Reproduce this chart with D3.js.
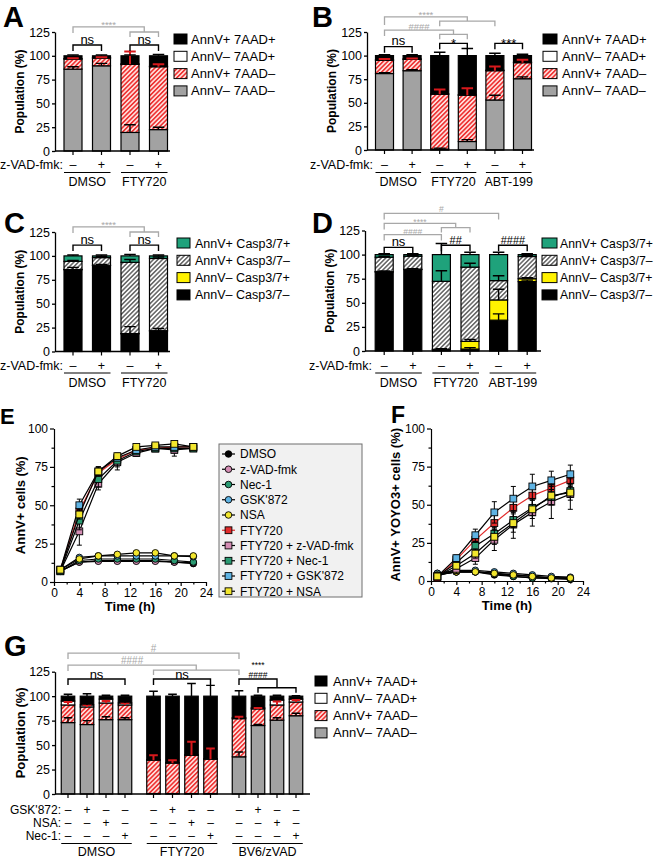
<!DOCTYPE html>
<html>
<head>
<meta charset="utf-8">
<script src="https://cdn.jsdelivr.net/npm/d3@7"></script>
<style>
body { margin: 0; background: #fff; }
</style>
</head>
<body>
<svg id="fig" width="659" height="859"></svg>
<script>
const FONT = '"Liberation Sans", Arial, Helvetica, sans-serif';
const GREY = '#a8a8a8';

// ---- legend names
const aadNames = ['AnnV+ 7AAD+', 'AnnV– 7AAD+', 'AnnV+ 7AAD–', 'AnnV– 7AAD–'];
const caspNames = ['AnnV+ Casp3/7+', 'AnnV+ Casp3/7–', 'AnnV– Casp3/7+', 'AnnV– Casp3/7–'];

// ---- panel A (segments in %, bottom to top)
const aGroups = ['DMSO', 'FTY720'];
const aZvad = ['–', '+', '–', '+'];
const aNN = [86, 89.5, 19.5, 22.5];
const aPN = [10.5, 8, 71.5, 66];
const aNP = [0.5, 0.5, 0.5, 0.5];
const aPP = [3, 2, 8.5, 11];
const aNNerr = [2.5, 2.5, 8, 2.5];
const aPNerr = [1, 1, 13.5, 2.5];
const aPPerr = [1, 1, 1, 1.5];

// ---- panel B
const bGroups = ['DMSO', 'FTY720', 'ABT-199'];
const bZvad = ['–', '+', '–', '+', '–', '+'];
const bNN = [81, 84, 1, 9, 53, 75.5];
const bPN = [14, 12, 58, 49, 31, 17];
const bNP = [0.5, 0.5, 0.5, 0.5, 0.5, 0.5];
const bPP = [4.5, 3.5, 40.5, 41.5, 15.5, 7];
const bNNerr = [1, 1, 1, 2, 5, 2];
const bPNerr = [1.5, 1, 5, 7.5, 4.5, 3];
const bPPerr = [1, 1, 3.5, 7.5, 2.5, 1.5];

// ---- panel C (AnnV-Casp-, AnnV-Casp+, AnnV+Casp-, AnnV+Casp+)
const cNN = [85.5, 90, 18.5, 21.5];
const cNP = [0.3, 0.2, 0.3, 0.3];
const cPN = [8.5, 8, 74.5, 75.5];
const cPP = [5.7, 1.8, 6.7, 2.7];
const cNNerr = [2.5, 1, 7.5, 2.5];
const cPNerr = [1, 1, 3, 1.5];
const cPPerr = [1, 1, 1.5, 1];

// ---- panel D
const dNN = [82, 84.5, 1.5, 2, 32, 72];
const dNP = [0.3, 0.3, 0.3, 8, 21, 3];
const dPN = [15, 13.5, 70.5, 77, 20, 23];
const dPP = [2.7, 1.7, 27.7, 13, 27, 2];
const dNNerr = [1, 1, 1, 1.5, 6.5, 1.5];
const dNPerr = [0, 0, 0, 2, 11, 1];
const dPNerr = [1, 1, 11, 4, 5, 1];
const dPPerr = [1, 1, 11.5, 2.5, 2.5, 1];

// ---- panels E / F (time course)
const timeH = [1, 4, 7, 10, 13, 16, 19, 22];
const seriesNames = ['DMSO', 'z-VAD-fmk', 'Nec-1', "GSK'872", 'NSA', 'FTY720',
  'FTY720 + z-VAD-fmk', 'FTY720 + Nec-1', "FTY720 + GSK'872", 'FTY720 + NSA'];
const seriesColors = ['#000000', '#d48db4', '#2a9a72', '#5fb3e3', '#f2e62e',
  '#e22b2b', '#d48db4', '#2a9a72', '#5fb3e3', '#f2e62e'];
const seriesShapes = ['circle', 'circle', 'circle', 'circle', 'circle',
  'square', 'square', 'square', 'square', 'square'];

const eDMSO = [7, 13, 14, 14, 14, 14, 13, 12];
const eZvad = [7, 13, 13.5, 13.5, 13.5, 13.5, 13, 12.5];
const eNec = [7, 14, 15, 15, 15, 15, 14, 13];
const eGsk = [8, 16, 17, 17, 17, 17, 17, 16.5];
const eNsa = [8, 15, 17, 18, 19, 19, 17, 17];
const eFty = [8, 46, 71, 80, 86, 87, 88, 88];
const eFtyZvad = [7, 33, 64, 78, 84, 87, 86, 87];
const eFtyNec = [7, 40, 67, 79, 85, 87, 87, 87];
const eFtyGsk = [8, 50, 72, 81, 86, 88, 88, 88];
const eFtyNsa = [8, 44, 72, 82, 88, 89, 90, 88];
const eErrSmall = [1, 1, 1, 1, 1, 1, 1.5, 1.5];
const eErrFty = [1, 4, 4, 3, 2, 1, 1, 1];
const eErrFtyZvad = [1, 9, 4, 5, 2, 2, 4, 1];
const eErrFtyNec = [1, 6, 5, 4, 2, 2, 2, 1];
const eErrFtyGsk = [1, 4, 3, 2, 1, 1, 1, 1];
const eErrFtyNsa = [1, 3, 3, 2, 1, 1, 1, 1];

const fDMSO = [5, 6, 6, 4, 3, 2, 1.5, 1];
const fZvad = [4, 6, 6, 5, 4, 3, 2, 2];
const fNec = [4, 6, 6, 5, 3, 2, 2, 1.5];
const fGsk = [5, 7, 7, 6, 5, 4, 3, 2.5];
const fNsa = [4, 6, 6, 5, 4, 3, 2, 2];
const fFty = [2, 14, 27, 38, 48, 56, 61, 66];
const fFtyZvad = [3, 8, 15, 27, 37, 45, 52, 57];
const fFtyNec = [3, 12, 23, 31, 40, 48, 55, 59];
const fFtyGsk = [3, 15, 30, 45, 54, 62, 66, 70];
const fFtyNsa = [3, 10, 18, 29, 38, 47, 56, 58];
const fErrSmall = [1, 1, 1, 1, 1, 1, 1, 1];
const fErrFty = [1, 2, 3, 5, 6, 6, 5, 4];
const fErrFtyZvad = [1, 3, 4, 7, 9, 9, 11, 10];
const fErrFtyNec = [1, 2, 3, 4, 5, 5, 5, 4];
const fErrFtyGsk = [1, 2, 4, 7, 8, 8, 6, 6];
const fErrFtyNsa = [1, 2, 3, 5, 6, 6, 6, 5];

// ---- panel G
const gGroups = ['DMSO', 'FTY720', 'BV6/zVAD'];
const gGsk = ['–', '+', '–', '–', '–', '+', '–', '–', '–', '+', '–', '–'];
const gNsa = ['–', '–', '+', '–', '–', '–', '+', '–', '–', '–', '+', '–'];
const gNec = ['–', '–', '–', '+', '–', '–', '–', '+', '–', '–', '–', '+'];
const gNN = [73, 71, 76, 76, 0.5, 0.5, 0.5, 0.5, 38, 70, 75.5, 80];
const gPN = [18, 18, 17, 15, 34, 31, 39, 35, 39, 17, 15.5, 14];
const gNP = [4, 2, 4, 2, 0.5, 0.5, 0.5, 0.5, 1, 1, 5, 3];
const gPP = [5, 9, 3, 7, 65, 68, 60, 64, 22, 12, 4, 3];
const gNNerr = [5, 4, 3, 2, 0, 0, 0, 0, 5, 1, 2.5, 2.5];
const gPNerr = [3, 2, 2, 2, 5, 3, 14, 11, 2, 1, 3.5, 2];
const gNPerr = [1, 1, 1, 1, 0, 0, 0, 0, 0, 0, 1.5, 1];
const gPPerr = [2, 2.5, 1, 1, 5, 2, 13, 11, 5.5, 1, 1, 0.5];

const svg = d3.select('#fig');
const defs = svg.append('defs');

function hatch(id, bg, fg, w) {
  const p = defs.append('pattern').attr('id', id)
    .attr('patternUnits', 'userSpaceOnUse')
    .attr('width', 3.2).attr('height', 3.2)
    .attr('patternTransform', 'rotate(45)');
  p.append('rect').attr('width', 3.2).attr('height', 3.2).attr('fill', bg);
  p.append('line').attr('x1', 0.8).attr('y1', 0).attr('x2', 0.8).attr('y2', 3.2)
    .attr('stroke', fg).attr('stroke-width', w);
}
hatch('hatchRed', '#ffe3e0', '#ee3434', 1.7);
hatch('hatchGray', '#ffffff', '#4a4a4a', 1.3);

const RED = 'url(#hatchRed)';
const HGRAY = 'url(#hatchGray)';
const BARGRAY = '#a2a2a2';
const GREEN = '#1fa27b';
const YELLOW = '#fff200';

function letter(t, x, y, size) {
  svg.append('text').attr('x', x).attr('y', y).text(t)
    .attr('font-family', FONT).attr('font-weight', 'bold').attr('font-size', size || 29);
}

function vTitle(t, x, y, size) {
  svg.append('text').attr('transform', `translate(${x},${y}) rotate(-90)`)
    .attr('text-anchor', 'middle').attr('dominant-baseline', 'central')
    .attr('font-family', FONT).attr('font-weight', 'bold').attr('font-size', size || 12)
    .text(t);
}

function glyphOffset(t, fs) {
  if (t.indexOf('*') >= 0) return 0.57 * fs;
  if (t.indexOf('#') >= 0) return 0.36 * fs;
  return 0.27 * fs;
}

function stackPanel(p) {
  const g = svg.append('g');
  const y = d3.scaleLinear().domain([0, 125]).range([p.yBot, p.yTop]);
  const x = d3.scaleLinear().domain([0, 1]).range([p.cx0, p.cx0 + p.step]);
  const cx = i => x(p.slots[i]);

  const rows = p.slots.map((s, i) => {
    const r = { i: i };
    p.layers.forEach(l => { r[l.key] = l.vals[i]; });
    return r;
  });
  const stacked = d3.stack().keys(p.layers.map(l => l.key))(rows);

  stacked.forEach((layer, li) => {
    g.selectAll(null).data(layer).join('rect')
      .attr('x', d => cx(d.data.i) - p.barW / 2)
      .attr('y', d => y(d[1]))
      .attr('width', p.barW)
      .attr('height', d => y(d[0]) - y(d[1]))
      .attr('fill', p.layers[li].fill)
      .attr('stroke', '#000').attr('stroke-width', 1.2);
  });

  stacked.forEach((layer, li) => {
    const L = p.layers[li];
    if (!L.errs) return;
    layer.forEach(d => {
      const e = L.errs[d.data.i];
      if (!e) return;
      const c = cx(d.data.i), top = y(d[1] + e), cw = p.barW * 0.32;
      g.append('path')
        .attr('d', `M${c},${y(d[1])}V${top}M${c - cw},${top}H${c + cw}`)
        .attr('fill', 'none')
        .attr('stroke', L.errColor)
        .attr('stroke-width', L.errColor === '#000' ? 1.4 : 2);
    });
  });

  // y axis
  const ya = g.append('g').attr('transform', `translate(${p.axisX},0)`)
    .call(d3.axisLeft(y).tickValues([0, 25, 50, 75, 100, 125])
      .tickSize(3).tickSizeOuter(0).tickPadding(2));
  ya.attr('font-family', FONT).attr('font-size', 12.5);
  ya.selectAll('text').attr('fill', '#000');
  ya.selectAll('path,line').attr('stroke', '#000').attr('stroke-width', 1.3);

  // x axis line + ticks
  g.append('line').attr('x1', p.axisX).attr('x2', p.axisEnd)
    .attr('y1', y(0)).attr('y2', y(0)).attr('stroke', '#000').attr('stroke-width', 1.3);
  g.selectAll(null).data(p.slots).join('line')
    .attr('x1', (d, i) => cx(i)).attr('x2', (d, i) => cx(i))
    .attr('y1', y(0)).attr('y2', y(0) + 4)
    .attr('stroke', '#000').attr('stroke-width', 1.2);

  // treatment rows
  p.rows.forEach(r => {
    g.append('text').attr('x', p.rowLabelX).attr('y', r.y + 4.5)
      .attr('text-anchor', 'end').attr('font-family', FONT).attr('font-size', r.fs || 12.5)
      .text(r.label);
    g.selectAll(null).data(r.signs).join('text')
      .attr('x', (d, i) => cx(i)).attr('y', r.y + 4.5)
      .attr('text-anchor', 'middle').attr('font-family', FONT).attr('font-size', r.fs || 12.5)
      .text(d => d);
  });

  // groups
  p.groups.forEach((name, gi) => {
    const i0 = gi * p.perGroup, i1 = i0 + p.perGroup - 1;
    const xa = cx(i0) - p.barW / 2, xb = cx(i1) + p.barW / 2;
    g.append('line').attr('x1', xa).attr('x2', xb).attr('y1', p.groupLineY).attr('y2', p.groupLineY)
      .attr('stroke', '#000').attr('stroke-width', 1.2);
    g.append('text').attr('x', (xa + xb) / 2).attr('y', p.groupTextY)
      .attr('text-anchor', 'middle').attr('font-family', FONT).attr('font-size', 12.5)
      .text(name);
  });

  // legend
  const lg = p.legend;
  lg.names.forEach((n, i) => {
    const yy = lg.y0 + i * lg.dy;
    g.append('rect').attr('x', lg.x).attr('y', yy - 5).attr('width', lg.w).attr('height', 10)
      .attr('fill', lg.fills[i]).attr('stroke', '#000').attr('stroke-width', 1);
    g.append('text').attr('x', lg.tx).attr('y', yy + 4.5)
      .attr('font-family', FONT).attr('font-size', lg.fs || 13).text(n);
  });

  // significance brackets
  p.brackets.forEach(b => {
    const col = b.c || '#000';
    const xl = b.l.length > 1 ? (cx(b.l[0]) + cx(b.l[1])) / 2 : cx(b.l[0]);
    const xr = b.r.length > 1 ? (cx(b.r[0]) + cx(b.r[1])) / 2 : cx(b.r[0]);
    const yl = y(b.y);
    const ys = b.ys != null ? y(b.ys) : null;
    const dl = b.dl || 6;
    const yLeft = b.l.length > 1 ? ys : yl + dl;
    const yRight = b.r.length > 1 ? ys : yl + dl;
    let d = `M${xl},${yLeft}V${yl}H${xr}V${yRight}`;
    [b.l, b.r].forEach(side => {
      if (side.length > 1) d += `M${cx(side[0])},${ys + 5}V${ys}H${cx(side[1])}V${ys + 5}`;
    });
    g.append('path').attr('d', d).attr('fill', 'none')
      .attr('stroke', col).attr('stroke-width', col === '#000' ? 1.4 : 1.3);
    const texts = Array.isArray(b.t) ? b.t : [b.t];
    const first = texts[0];
    const fs = b.fs || (first === 'ns' ? 13 : (col === '#000' ? (first.indexOf('#') >= 0 ? 11 : 13) : 9.5));
    texts.forEach((t, k) => {
      const center = yl - (b.gap || 5) - (texts.length - 1 - k) * (b.lh || 7);
      g.append('text').attr('x', (xl + xr) / 2).attr('y', center + glyphOffset(t, fs))
        .attr('text-anchor', 'middle').attr('font-family', FONT)
        .attr('font-size', fs).attr('fill', col).text(t);
    });
  });

  vTitle('Population (%)', p.axisX - 35, (p.yTop + p.yBot) / 2, p.titleFs || 12);
  return g;
}

const aadLayers = (nn, pn, np, pp, nnE, pnE, npE, ppE) => [
  { key: 'nn', vals: nn, errs: nnE, fill: BARGRAY, errColor: '#000' },
  { key: 'pn', vals: pn, errs: pnE, fill: RED, errColor: '#d7191c' },
  { key: 'np', vals: np, errs: npE, fill: '#fff', errColor: '#000' },
  { key: 'pp', vals: pp, errs: ppE, fill: '#000', errColor: '#000' }
];
const caspLayers = (nn, np, pn, pp, nnE, npE, pnE, ppE) => [
  { key: 'nn', vals: nn, errs: nnE, fill: '#000', errColor: '#000' },
  { key: 'np', vals: np, errs: npE, fill: YELLOW, errColor: '#000' },
  { key: 'pn', vals: pn, errs: pnE, fill: HGRAY, errColor: '#000' },
  { key: 'pp', vals: pp, errs: ppE, fill: GREEN, errColor: '#000' }
];
const aadFills = ['#000', '#fff', RED, BARGRAY];
const caspFills = [GREEN, HGRAY, YELLOW, '#000'];

// ---------- A
stackPanel({
  yTop: 32, yBot: 151, axisX: 55, axisEnd: 170,
  slots: d3.range(aZvad.length), cx0: 73, step: 28.5, barW: 18,
  layers: aadLayers(aNN, aPN, aNP, aPP, aNNerr, aPNerr, null, aPPerr),
  rows: [{ label: 'z-VAD-fmk:', signs: aZvad, y: 164.5 }], rowLabelX: 63,
  groups: aGroups, perGroup: 2, groupLineY: 172.5, groupTextY: 186,
  legend: { x: 174, tx: 191, w: 13, y0: 39, dy: 17.3, names: aadNames, fills: aadFills },
  brackets: [
    { l: [0], r: [2, 3], y: 130.3, ys: 125, t: '****', c: GREY, gap: 4 },
    { l: [0], r: [1], y: 111.3, t: 'ns' },
    { l: [2], r: [3], y: 111.3, t: 'ns' }
  ]
});
letter('A', 3, 27);

// ---------- B
stackPanel({
  yTop: 32, yBot: 150, axisX: 367, axisEnd: 534,
  slots: d3.range(bZvad.length), cx0: 384.5, step: 27.6, barW: 18,
  layers: aadLayers(bNN, bPN, bNP, bPP, bNNerr, bPNerr, null, bPPerr),
  rows: [{ label: 'z-VAD-fmk:', signs: bZvad, y: 164.5 }], rowLabelX: 373,
  groups: bGroups, perGroup: 2, groupLineY: 172.5, groupTextY: 186,
  legend: { x: 543, tx: 562, w: 14, y0: 39, dy: 17.3, names: aadNames, fills: aadFills },
  brackets: [
    { l: [0], r: [2, 4], y: 141, ys: 136.5, t: '****', c: GREY, dl: 8, gap: 4 },
    { l: [0], r: [2, 3], y: 127, ys: 122.5, t: '####', c: GREY, gap: 4 },
    { l: [0], r: [1], y: 109.5, t: 'ns' },
    { l: [2], r: [3], y: 113, t: '*', gap: 3 },
    { l: [4], r: [5], y: 113, t: '***', gap: 3 }
  ]
});
letter('B', 312, 27);

// ---------- C
stackPanel({
  yTop: 232, yBot: 351.5, axisX: 55, axisEnd: 170,
  slots: d3.range(aZvad.length), cx0: 73, step: 28.5, barW: 18,
  layers: caspLayers(cNN, cNP, cPN, cPP, cNNerr, null, cPNerr, cPPerr),
  rows: [{ label: 'z-VAD-fmk:', signs: aZvad, y: 365 }], rowLabelX: 63,
  groups: aGroups, perGroup: 2, groupLineY: 373, groupTextY: 386.5,
  legend: { x: 177, tx: 195, w: 13, y0: 243, dy: 17.3, fs: 12.5, names: caspNames, fills: caspFills },
  brackets: [
    { l: [0], r: [2, 3], y: 130.3, ys: 125, t: '****', c: GREY, gap: 4 },
    { l: [0], r: [1], y: 111.3, t: 'ns' },
    { l: [2], r: [3], y: 111.3, t: 'ns' }
  ]
});
letter('C', 4, 233);

// ---------- D
stackPanel({
  yTop: 230.5, yBot: 351, axisX: 365, axisEnd: 541,
  slots: d3.range(bZvad.length), cx0: 384.2, step: 28.6, barW: 18,
  layers: caspLayers(dNN, dNP, dPN, dPP, dNNerr, dNPerr, dPNerr, dPPerr),
  rows: [{ label: 'z-VAD-fmk:', signs: bZvad, y: 365 }], rowLabelX: 372,
  groups: bGroups, perGroup: 2, groupLineY: 373, groupTextY: 386.5,
  legend: { x: 542, tx: 560, w: 15, y0: 243, dy: 17.3, fs: 12.2, names: caspNames, fills: caspFills },
  brackets: [
    { l: [0], r: [4], y: 142.7, t: '#', c: GREY, gap: 4, fs: 8.5 },
    { l: [0], r: [2, 3], y: 132.3, ys: 128, t: '****', c: GREY, gap: 3, fs: 8.5 },
    { l: [0], r: [2], y: 120.8, t: '####', c: GREY, gap: 2.5, fs: 8.5 },
    { l: [0], r: [1], y: 107.5, t: 'ns' },
    { l: [2], r: [3], y: 109.7, t: '##' },
    { l: [4], r: [5], y: 109.7, t: '####' }
  ]
});
letter('D', 312, 233);

// ---------- E / F
function drawMarker(g, shape, x, y, col) {
  if (shape === 'circle') {
    g.append('circle').attr('cx', x).attr('cy', y).attr('r', 3.3)
      .attr('fill', col).attr('stroke', '#000').attr('stroke-width', 0.9);
  } else {
    g.append('rect').attr('x', x - 3.4).attr('y', y - 3.4).attr('width', 6.8).attr('height', 6.8)
      .attr('fill', col).attr('stroke', '#000').attr('stroke-width', 0.9);
  }
}

function linePanel(p) {
  const g = svg.append('g');
  const x = d3.scaleLinear().domain([0, 24]).range([p.x0, p.x1]);
  const y = d3.scaleLinear().domain([0, 100]).range([p.yBot, p.yTop]);

  const xa = g.append('g').attr('transform', `translate(0,${p.yBot})`)
    .call(d3.axisBottom(x).tickValues(d3.range(0, 25, 4)).tickSize(4).tickSizeOuter(0).tickPadding(2));
  const xm = g.append('g').attr('transform', `translate(0,${p.yBot})`)
    .call(d3.axisBottom(x).tickValues(d3.range(2, 24, 4)).tickSize(2.5).tickFormat(''));
  xm.select('.domain').remove();
  const ya = g.append('g').attr('transform', `translate(${p.x0},0)`)
    .call(d3.axisLeft(y).tickValues([0, 25, 50, 75, 100]).tickSize(4).tickSizeOuter(0).tickPadding(2));
  const ym = g.append('g').attr('transform', `translate(${p.x0},0)`)
    .call(d3.axisLeft(y).tickValues([12.5, 37.5, 62.5, 87.5]).tickSize(2.5).tickFormat(''));
  ym.select('.domain').remove();
  [xa, ya, xm, ym].forEach(a => {
    a.attr('font-family', FONT).attr('font-size', 12);
    a.selectAll('text').attr('fill', '#000');
    a.selectAll('path,line').attr('stroke', '#000').attr('stroke-width', 1.2);
  });

  const line = d3.line().x((d, i) => x(timeH[i])).y(d => y(d));
  p.vals.forEach((vals, s) => {
    const col = seriesColors[s];
    g.append('path').attr('d', line(vals)).attr('fill', 'none')
      .attr('stroke', s === 5 ? '#e22b2b' : '#000').attr('stroke-width', 1.2);
    const errs = p.errs[s];
    vals.forEach((v, i) => {
      const e = errs[i], xx = x(timeH[i]);
      g.append('path')
        .attr('d', `M${xx},${y(v - e)}V${y(v + e)}M${xx - 2.5},${y(v - e)}H${xx + 2.5}M${xx - 2.5},${y(v + e)}H${xx + 2.5}`)
        .attr('stroke', '#000').attr('stroke-width', 1).attr('fill', 'none');
    });
    vals.forEach((v, i) => drawMarker(g, seriesShapes[s], x(timeH[i]), y(v), col));
  });

  g.append('text').attr('x', (p.x0 + p.x1) / 2).attr('y', p.yBot + 29)
    .attr('text-anchor', 'middle').attr('font-family', FONT).attr('font-weight', 'bold')
    .attr('font-size', 13).text('Time (h)');
  vTitle(p.title, p.titleX, (p.yTop + p.yBot) / 2, 13);
}

linePanel({
  x0: 54, x1: 206, yTop: 428.5, yBot: 582, titleX: 20, title: 'AnnV+ cells (%)',
  vals: [eDMSO, eZvad, eNec, eGsk, eNsa, eFty, eFtyZvad, eFtyNec, eFtyGsk, eFtyNsa],
  errs: [eErrSmall, eErrSmall, eErrSmall, eErrSmall, eErrSmall, eErrFty, eErrFtyZvad, eErrFtyNec, eErrFtyGsk, eErrFtyNsa]
});
letter('E', 0, 424, 22);

linePanel({
  x0: 431, x1: 583, yTop: 428.5, yBot: 581, titleX: 395, title: 'AnnV+ YOYO3+ cells (%)',
  vals: [fDMSO, fZvad, fNec, fGsk, fNsa, fFty, fFtyZvad, fFtyNec, fFtyGsk, fFtyNsa],
  errs: [fErrSmall, fErrSmall, fErrSmall, fErrSmall, fErrSmall, fErrFty, fErrFtyZvad, fErrFtyNec, fErrFtyGsk, fErrFtyNsa]
});
letter('F', 391, 423, 23);

// E legend box
const eLeg = svg.append('g');
eLeg.append('rect').attr('x', 219).attr('y', 444).attr('width', 143).attr('height', 153)
  .attr('fill', '#f1f1f1').attr('stroke', '#6e6e6e').attr('stroke-width', 1);
seriesNames.forEach((n, i) => {
  const yy = 454 + i * 15.25;
  eLeg.append('line').attr('x1', 222).attr('x2', 235).attr('y1', yy).attr('y2', yy)
    .attr('stroke', i === 5 ? '#e22b2b' : '#000').attr('stroke-width', 1.2);
  drawMarker(eLeg, seriesShapes[i], 228.5, yy, seriesColors[i]);
  eLeg.append('text').attr('x', 240).attr('y', yy + 4.3)
    .attr('font-family', FONT).attr('font-size', 12).text(n);
});

// ---------- G
stackPanel({
  yTop: 671.7, yBot: 794, axisX: 55, axisEnd: 310,
  slots: d3.range(gGsk.length).map(i => Math.floor(i / 4) * 4.5 + i % 4), cx0: 68, step: 19, barW: 13.5,
  layers: aadLayers(gNN, gPN, gNP, gPP, gNNerr, gPNerr, gNPerr, gPPerr),
  rows: [
    { label: "GSK'872:", signs: gGsk, y: 809, fs: 12 },
    { label: 'NSA:', signs: gNsa, y: 822.3, fs: 12 },
    { label: 'Nec-1:', signs: gNec, y: 835.6, fs: 12 }
  ], rowLabelX: 61,
  groups: gGroups, perGroup: 4, groupLineY: 843.5, groupTextY: 856,
  legend: { x: 315, tx: 333, w: 12, y0: 681, dy: 17.3, names: aadNames, fills: aadFills },
  titleFs: 13,
  brackets: [
    { l: [0], r: [8], y: 144, t: '#', c: GREY, gap: 5, fs: 10 },
    { l: [0], r: [4, 8], y: 131.8, ys: 126.7, t: '####', c: GREY, gap: 5, fs: 10 },
    { l: [0], r: [3], y: 117.5, t: 'ns', gap: 4 },
    { l: [4], r: [7], y: 117.5, t: 'ns', gap: 4 },
    { l: [8], r: [9, 11], y: 117.5, ys: 108.6, t: ['****', '####'], gap: 4.5, lh: 11.3, fs: 8.5 }
  ]
});
letter('G', 4, 656);
</script>
</body>
</html>
